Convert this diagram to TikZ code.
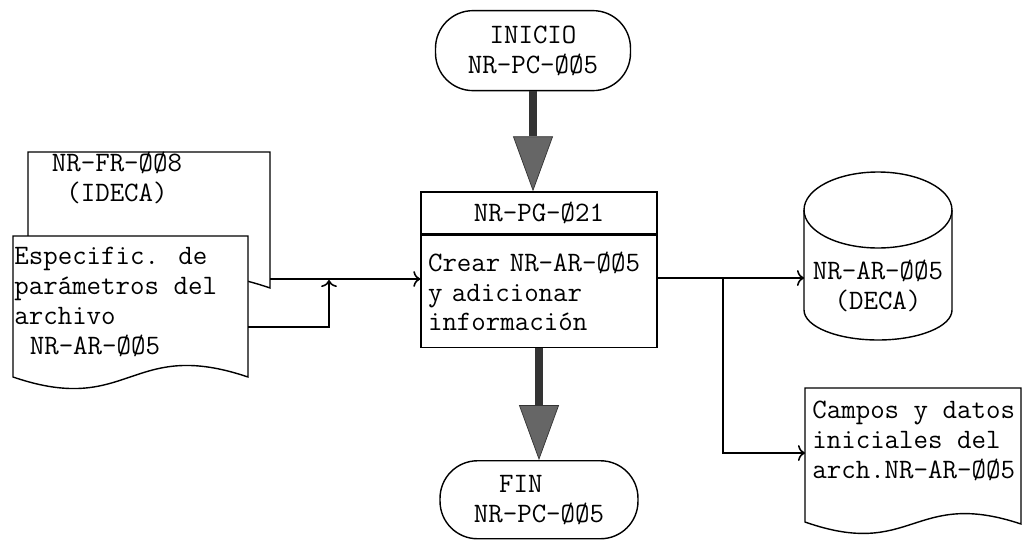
\documentclass[tikz,border=0pt]{standalone}
\usepackage{fontspec}
\usetikzlibrary{positioning,arrows.meta}

\begin{document}
\begin{tikzpicture}[x=0.02cm, y=-0.02cm,
    font=\ttfamily\fontsize{16}{17}\selectfont,
    terminal/.style={draw, line width=0.8pt, rounded corners=0.75cm, inner sep=0pt},
    caja/.style={draw, line width=0.8pt, minimum width=4.72cm, inner sep=0pt},
    texto/.style={align=left, inner sep=0pt},
    flecha/.style={line width=0.9pt, -{To[length=4pt,width=9pt]}},
    grueso/.style={line width=4.5pt, draw=black!80, -{Triangle[length=1.1cm,width=0.8cm,line width=0.4pt,fill=black!60]}}]
    \useasboundingbox (0,0) rectangle (1031,541);

    % Programa central
    \node[caja, minimum height=0.84cm] (prog) at (539,213) {NR-PG-Ø21};
    \node[caja, minimum height=2.24cm, below=0pt of prog, align=left, text width=4.44cm] (crear)
        {Crear NR-AR-ØØ5\\y adicionar\\información};

    % Inicio y fin
    \node[terminal, minimum width=3.9cm, minimum height=1.6cm, align=center,
          above=2cm of prog, xshift=-0.12cm] (inicio) {INICIO\\NR-PC-ØØ5};
    \node[terminal, minimum width=3.96cm, minimum height=1.56cm, align=left,
          below=2.24cm of crear] (fin) {\hspace*{0.9em}FIN\\NR-PC-ØØ5};

    \draw[grueso] (inicio) -- (inicio |- prog.north);
    \draw[grueso] (crear.south -| fin) -- (fin);

    % Formato de entrada (detras)
    \draw[line width=0.8pt, fill=white] (28,286) -- (28,152) -- (270,152) -- (270,288)
        .. controls (149,246) and (149,326) .. (28,286) -- cycle;
    \node[texto, align=center] (ideca) at (117,178) {NR-FR-ØØ8\\(IDECA)};

    % Especificacion de parametros
    \draw[line width=0.8pt, fill=white] (13,377) -- (13,236) -- (248,236) -- (248,377)
        .. controls (130,337) and (130,417) .. (13,377) -- cycle;
    \node[texto, anchor=north west] (espec) at (14,247)
        {Especific. de\\parámetros del\\archivo\\\hspace*{0.55em}NR-AR-ØØ5};

    % Archivo en disco
    \draw[line width=0.8pt, fill=white] (804,210)
        arc[start angle=180, end angle=0, x radius=1.48cm, y radius=0.76cm] -- (952,310)
        arc[start angle=0, end angle=-180, x radius=1.48cm, y radius=0.6cm] -- cycle;
    \draw[line width=0.8pt] (804,210)
        arc[start angle=180, end angle=360, x radius=1.48cm, y radius=0.76cm];
    \node[texto, align=center] (deca) at (878,286) {NR-AR-ØØ5\\(DECA)};

    % Reporte de campos
    \draw[line width=0.8pt, fill=white] (805,522) -- (805,388) -- (1021,388) -- (1021,524)
        .. controls (913,488) and (913,560) .. (805,522) -- cycle;
    \node[texto, anchor=north west] (campos) at (812,401)
        {Campos y datos\\iniciales del\\arch.NR-AR-ØØ5};

    % Puntos de conexion
    \coordinate (ideca-out) at (270,279);
    \coordinate (espec-out) at (248,327);
    \coordinate (union) at (329,280);
    \coordinate (salida) at (657,278);
    \coordinate (rama) at (723,278);
    \coordinate (deca-in) at (804,278);
    \coordinate (campos-in) at (805,453);

    \draw[flecha] (ideca-out) -- (ideca-out -| crear.west);
    \draw[flecha] (espec-out) -| (union);
    \draw[flecha] (salida) -- (deca-in);
    \draw[flecha] (rama) |- (campos-in);
\end{tikzpicture}
\end{document}
